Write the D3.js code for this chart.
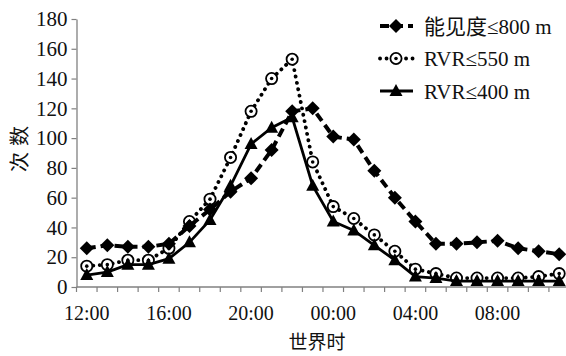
<!DOCTYPE html>
<html>
<head>
<meta charset="utf-8">
<script src="https://cdn.jsdelivr.net/npm/d3@7/dist/d3.min.js"></script>
<style>
  html, body { margin: 0; padding: 0; background: #fff; }
  svg { display: block; }
  svg text { font-family: "Liberation Serif", "Times New Roman", "DejaVu Serif", "Noto Sans CJK SC", serif; fill: #111; }
  svg text.cjk { font-family: "Noto Sans CJK SC", sans-serif; }
</style>
</head>
<body>
<svg id="chart" width="566" height="356"></svg>
<script>
// Hourly categories (UTC), 12:00 through 11:00 of the next day
const hours = ["12:00","13:00","14:00","15:00","16:00","17:00","18:00","19:00",
               "20:00","21:00","22:00","23:00","00:00","01:00","02:00","03:00",
               "04:00","05:00","06:00","07:00","08:00","09:00","10:00","11:00"];
const hourLabels = ["12:00","16:00","20:00","00:00","04:00","08:00"];
const yTicks = [0, 20, 40, 60, 80, 100, 120, 140, 160, 180];

// Occurrence counts per hour
const vis800 = [26, 28, 27, 27, 29, 41, 52, 64, 73, 92, 118, 120,
                101, 99, 78, 60, 44, 29, 29, 30, 31, 26, 24, 22];
const rvr550 = [14, 15, 18, 18, 26, 44, 59, 87, 118, 140, 153, 84,
                54, 46, 35, 24, 12, 9, 6, 6, 6, 6, 7, 9];
const rvr400 = [8, 10, 15, 15, 19, 30, 45, 68, 96, 107, 114, 68,
                44, 38, 28, 18, 7, 6, 4, 4, 4, 4, 4, 4];

const seriesNames = ["能见度≤800 m", "RVR≤550 m", "RVR≤400 m"];

const svg = d3.select("#chart");
const plotLeft = 76.5, plotBottom = 287, plotTop = 19;
const step = 20.54;

const x = d3.scaleBand().domain(hours).range([plotLeft, plotLeft + step * hours.length]).padding(0);
const y = d3.scaleLinear().domain([0, 180]).range([plotBottom, plotTop]);
const cx = d => x(d) + x.bandwidth() / 2;

const axisColor = "#808080";

// Y axis
const yAxis = svg.append("g").attr("transform", `translate(${plotLeft},0)`)
  .call(d3.axisLeft(y).tickValues(yTicks).tickSize(5).tickSizeOuter(0).tickPadding(4));
yAxis.attr("font-family", null).attr("font-size", null);
yAxis.select(".domain").attr("stroke", axisColor).attr("stroke-width", 1.3);
yAxis.selectAll(".tick line").attr("stroke", axisColor).attr("stroke-width", 1.2);
yAxis.selectAll(".tick text").attr("font-size", 21).attr("fill", "#111");

// X axis: boundary ticks between categories, labels every 4 hours
const xg = svg.append("g").attr("transform", `translate(0,${plotBottom})`);
xg.append("line").attr("x1", plotLeft).attr("x2", x.range()[1])
  .attr("stroke", axisColor).attr("stroke-width", 1.3);
xg.selectAll("line.bt").data(d3.range(hours.length + 1)).join("line")
  .attr("class", "bt")
  .attr("x1", i => plotLeft + i * x.step()).attr("x2", i => plotLeft + i * x.step())
  .attr("y1", 0).attr("y2", 5)
  .attr("stroke", axisColor).attr("stroke-width", 1.2);
xg.selectAll("text").data(hourLabels).join("text")
  .attr("x", d => cx(d)).attr("y", 33)
  .attr("text-anchor", "middle").attr("font-size", 20)
  .text(d => d);

// Axis titles
svg.append("text").attr("class", "cjk")
  .attr("transform", "translate(27,146) rotate(-90)")
  .attr("text-anchor", "middle")
  .attr("font-size", 20)
  .attr("letter-spacing", 6)
  .text("次数");
svg.append("text").attr("class", "cjk")
  .attr("x", 317).attr("y", 349)
  .attr("text-anchor", "middle")
  .attr("font-size", 19)
  .text("世界时");

// Series lines
const line = d3.line().x((d, i) => cx(hours[i])).y(d => y(d));

const plot = svg.append("g");

function circleMarker(g, px, py) {
  g.append("circle").attr("cx", px).attr("cy", py).attr("r", 5.6)
    .attr("fill", "#fff").attr("stroke", "#000").attr("stroke-width", 1.8);
  g.append("circle").attr("cx", px).attr("cy", py).attr("r", 1.8).attr("fill", "#000");
}
function triMarker(g, px, py) {
  g.append("path").attr("d", `M${px},${py - 7}L${px + 6.5},${py + 5}L${px - 6.5},${py + 5}Z`)
    .attr("fill", "#000");
}
function diaMarker(g, px, py) {
  g.append("path").attr("d", `M${px},${py - 7}L${px + 7},${py}L${px},${py + 7}L${px - 7},${py}Z`)
    .attr("fill", "#000");
}

// RVR ≤ 550 m: dotted with open circles
plot.append("path").datum(rvr550).attr("d", line)
  .attr("fill", "none").attr("stroke", "#000").attr("stroke-width", 3.8)
  .attr("stroke-linecap", "round").attr("stroke-dasharray", "0.1,6.4");
const g550 = plot.append("g");
rvr550.forEach((v, i) => circleMarker(g550, cx(hours[i]), y(v)));

// RVR ≤ 400 m: solid with triangles
plot.append("path").datum(rvr400).attr("d", line)
  .attr("fill", "none").attr("stroke", "#000").attr("stroke-width", 2.8);
const g400 = plot.append("g");
rvr400.forEach((v, i) => triMarker(g400, cx(hours[i]), y(v)));

// Visibility ≤ 800 m: dashed with diamonds
plot.append("path").datum(vis800).attr("d", line)
  .attr("fill", "none").attr("stroke", "#000").attr("stroke-width", 4)
  .attr("stroke-dasharray", "9,5");
const g800 = plot.append("g");
vis800.forEach((v, i) => diaMarker(g800, cx(hours[i]), y(v)));

// Legend
const legend = svg.append("g");
const rows = [26, 58.5, 91];
const lx0 = 380, lx1 = 413, lmid = 396;
legend.append("line").attr("x1", lx0).attr("x2", lx1).attr("y1", rows[0]).attr("y2", rows[0])
  .attr("stroke", "#000").attr("stroke-width", 4).attr("stroke-dasharray", "9,5");
diaMarker(legend, lmid, rows[0]);
legend.append("line").attr("x1", lx0).attr("x2", lx1).attr("y1", rows[1]).attr("y2", rows[1])
  .attr("stroke", "#000").attr("stroke-width", 3.8).attr("stroke-linecap", "round")
  .attr("stroke-dasharray", "0.1,6.4");
circleMarker(legend, lmid, rows[1]);
legend.append("line").attr("x1", lx0).attr("x2", lx1).attr("y1", rows[2]).attr("y2", rows[2])
  .attr("stroke", "#000").attr("stroke-width", 2.8);
triMarker(legend, lmid, rows[2]);

legend.selectAll("text.lt").data(seriesNames).join("text")
  .attr("class", "lt")
  .attr("x", 424).attr("y", (d, i) => rows[i] + 7.5)
  .attr("font-size", 21)
  .text(d => d);
</script>
</body>
</html>
